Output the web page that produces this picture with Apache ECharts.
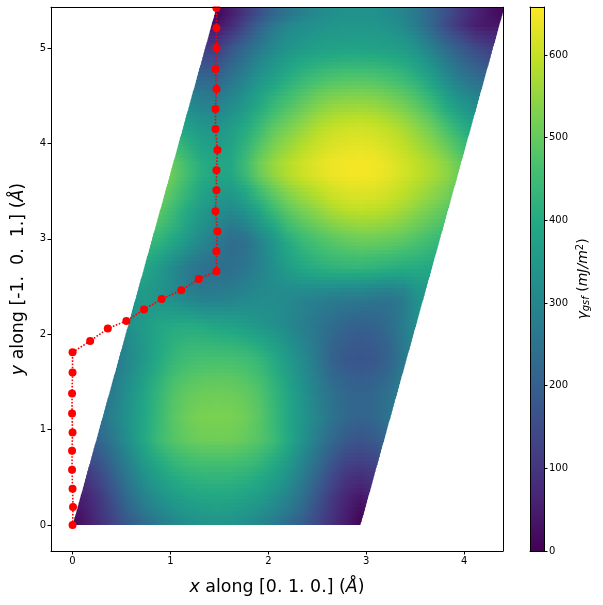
<!DOCTYPE html>
<html><head><meta charset="utf-8">
<style>html,body{margin:0;padding:0;background:#fff}#c{width:603px;height:605px}</style>
<script src="https://cdn.jsdelivr.net/npm/echarts@6/dist/echarts.min.js"></script>
</head><body><div id="c"></div>
<script>
const xTicks=[0,1,2,3,4];
const yTicks=[0,1,2,3,4,5];
const barTicks=[0,100,200,300,400,500,600];
const gammaMax=658;
const cellA=2.94, cellBx=1.47, cellBy=5.43;
const viridis=['#440154','#482576','#414487','#355f8d','#2a788e','#21918c','#22a884','#44bf70','#7ad151','#bddf26','#fde725'];
const pathX=[0,0.005,0,-0.005,-0.005,0,-0.005,-0.005,0,0,0.18,0.36,0.55,0.73,0.91,1.11,1.29,1.47,1.47,1.48,1.46,1.47,1.47,1.48,1.46,1.46,1.47,1.46,1.47,1.47,1.47];
const pathY=[0,0.19,0.38,0.58,0.78,0.97,1.17,1.38,1.6,1.81,1.93,2.06,2.14,2.26,2.37,2.46,2.58,2.66,2.87,3.08,3.29,3.51,3.72,3.93,4.15,4.36,4.57,4.78,5.0,5.21,5.42];
const gammaRows=[
[8,49,93,143,196,238,276,305,328,340,344,340,328,305,276,238,196,143,93,49],
[24,57,102,159,218,265,303,332,353,363,368,363,353,332,303,265,218,159,102,57],
[40,65,112,175,240,290,330,358,378,388,392,388,378,358,330,290,240,175,112,65],
[66,86,133,195,258,312,353,382,401,410,414,410,401,382,353,312,258,195,133,86],
[92,107,154,215,276,334,376,406,425,433,435,433,425,406,376,334,276,215,154,107],
[118,131,176,235,295,355,399,430,449,458,459,458,449,430,399,355,295,235,176,131],
[144,159,199,255,315,375,422,455,474,485,486,485,474,455,422,375,315,255,199,159],
[173,186,223,276,335,395,445,480,500,512,513,512,500,480,445,395,335,276,223,186],
[191,204,238,286,339,393,442,482,506,518,519,518,506,482,442,393,339,286,238,204],
[210,222,252,295,342,392,440,485,512,524,526,524,512,485,440,392,342,295,252,222],
[210,221,249,290,339,389,436,480,505,516,518,516,505,480,436,389,339,290,249,221],
[210,220,245,285,335,385,432,475,498,508,510,508,498,475,432,385,335,285,245,220],
[198,207,233,278,327,375,421,464,484,494,496,494,484,464,421,375,327,278,233,207],
[186,195,221,271,319,363,410,448,469,478,480,478,469,448,410,363,319,271,221,195],
[173,181,208,264,310,353,398,433,454,462,464,462,454,433,398,353,310,264,208,181],
[178,186,213,265,314,352,392,422,437,441,439,436,425,406,376,337,300,260,213,188],
[190,198,223,269,322,355,388,410,419,418,410,405,392,374,351,320,290,258,223,200],
[201,209,233,273,331,358,385,399,402,397,384,376,360,343,326,304,280,256,233,213],
[229,229,239,272,330,355,363,364,355,344,338,339,334,329,323,305,286,268,251,237],
[257,250,247,272,330,351,343,329,309,293,293,300,310,317,317,305,293,280,269,260],
[304,295,287,302,346,359,338,313,284,265,266,274,290,307,317,318,316,313,310,306],
[373,366,357,359,376,376,345,308,273,253,250,254,272,297,322,343,357,367,373,375],
[431,426,416,408,403,394,355,311,271,247,240,238,257,290,326,365,391,412,424,430],
[465,461,453,443,432,417,388,347,304,272,256,236,249,290,334,382,412,435,451,460],
[499,497,491,479,461,440,419,383,339,297,267,233,242,290,343,399,434,459,478,491],
[532,530,523,509,489,466,446,409,363,318,286,253,266,316,371,428,462,487,508,523],
[564,561,553,538,516,492,471,430,382,338,306,282,302,355,410,462,494,519,542,556],
[596,593,582,564,541,516,491,447,398,356,326,312,338,391,449,495,525,549,574,591],
[619,616,604,586,564,540,515,470,420,376,347,339,374,431,484,526,555,578,601,614],
[633,630,618,600,577,555,530,485,435,390,365,362,405,465,515,553,579,600,619,630],
[649,645,633,615,593,572,547,502,452,406,385,386,439,503,549,581,606,624,639,646],
[650,646,633,615,592,570,542,497,448,405,387,393,447,510,555,585,609,628,642,648],
[638,634,620,602,577,551,516,471,425,386,372,383,431,489,536,565,591,613,629,636],
[626,621,607,588,561,531,490,445,402,366,356,373,415,468,516,546,574,598,615,624],
[614,609,594,574,545,512,464,419,378,347,341,363,400,447,496,527,556,583,602,612],
[588,583,568,548,518,481,430,385,348,320,315,341,377,422,468,500,530,558,576,586],
[558,553,538,518,488,448,395,350,317,292,288,316,353,398,441,473,503,530,549,556],
[528,523,508,488,458,415,361,316,286,265,261,290,329,374,414,446,476,502,518,526],
[494,489,475,456,426,381,327,282,253,232,229,262,302,348,384,419,447,471,485,492],
[455,451,440,424,393,348,295,250,218,194,191,233,277,322,359,392,417,436,447,454],
[416,413,404,392,360,315,264,219,182,157,153,202,249,295,334,365,387,402,410,415],
[376,374,368,358,326,280,230,186,146,118,114,172,222,267,308,338,356,368,374,377],
[362,360,351,336,298,246,190,144,100,79,76,125,183,238,289,324,339,351,358,361],
[342,340,329,309,267,210,147,94,54,38,36,75,141,208,260,299,320,333,339,342],
[333,330,317,295,259,211,160,107,64,35,9,51,105,161,215,255,285,307,323,331]
];

const nRows=gammaRows.length, nCols=gammaRows[0].length;
const path=pathX.map((x,i)=>[x,pathY[i]]);
const shadeBands=3;

const font='"DejaVu Sans"';
const line={lineStyle:{color:'#000',width:1}};
const tickStyle=v=>({show:true,length:3.5,customValues:v,lineStyle:{color:'#000',width:1}});
const labelStyle=v=>({show:true,customValues:v,fontFamily:font,fontSize:10,color:'#000',margin:5});
function ax(extra){return Object.assign({type:'value',z:10,splitLine:{show:false},
  axisLine:Object.assign({show:true,onZero:false},line)},extra);}
function bare(extra){return Object.assign({type:'value',z:10,splitLine:{show:false},
  axisLine:Object.assign({show:true,onZero:false},line),axisTick:{show:false},axisLabel:{show:false}},extra);}
const xr={min:-0.22,max:4.397}, yr={min:-0.272,max:5.43};

const chart=echarts.init(document.getElementById('c'),null,{renderer:'canvas'});
const nameRich=size=>({i:{fontFamily:font,fontSize:size,fontStyle:'italic',color:'#000'},n:{fontFamily:font,fontSize:size,color:'#000'}});
const colorOf=v=>echarts.color.lerp(Math.max(0,Math.min(1,v/gammaMax)),viridis);
const clamp01=t=>Math.max(0,Math.min(1,t));
chart.setOption({
  animation:false,backgroundColor:'#fff',
  grid:[{left:51,right:100,top:7,bottom:54,outerBoundsMode:'none'},{left:530,right:59,top:7,bottom:54,outerBoundsMode:'none'}],
  xAxis:[
    ax(Object.assign({gridIndex:0,position:'bottom',axisTick:tickStyle(xTicks),axisLabel:labelStyle(xTicks),
      name:'{i|x}{n| along [0. 1. 0.] (}{i|Å}{n|)}',nameLocation:'middle',nameGap:28,
      nameTextStyle:{rich:nameRich(17.4)}},xr)),
    bare(Object.assign({gridIndex:0,position:'top'},xr)),
    bare({gridIndex:1,position:'bottom',min:0,max:1}),
    bare({gridIndex:1,position:'top',min:0,max:1})
  ],
  yAxis:[
    ax(Object.assign({gridIndex:0,position:'left',axisTick:tickStyle(yTicks),axisLabel:labelStyle(yTicks),
      name:'{i|y}{n| along [-1.  0.  1.] (}{i|Å}{n|)}',nameLocation:'middle',nameGap:24,nameRotate:90,
      nameTextStyle:{rich:nameRich(17.4)}},yr)),
    bare(Object.assign({gridIndex:0,position:'right'},yr)),
    ax({gridIndex:1,position:'right',min:0,max:gammaMax,axisTick:tickStyle(barTicks),axisLabel:labelStyle(barTicks),
      name:'{g|γ}{s|gsf}{n| (}{g|mJ/m}{u|2}{n|)}',nameLocation:'middle',nameGap:31,nameRotate:90,
      nameTextStyle:{rich:{
        g:{fontFamily:font,fontSize:14,fontStyle:'italic',color:'#000'},
        n:{fontFamily:font,fontSize:14,color:'#000'},
        s:{fontFamily:font,fontSize:10,fontStyle:'italic',color:'#000',padding:[6,0,0,0]},
        u:{fontFamily:font,fontSize:10,color:'#000',padding:[0,0,6,0]}}}}),
    bare({gridIndex:1,position:'left',min:0,max:gammaMax})
  ],
  series:[
    {type:'custom',xAxisIndex:0,yAxisIndex:0,clip:true,z:2,silent:true,
     data:gammaRows.map((r,j)=>[j].concat(r)),
     dimensions:['row'].concat(gammaRows[0].map((_,k)=>'n'+k)),
     encode:{y:0},
     renderItem(p,api){
       const j=api.value(0), children=[];
       const dy=cellBy/nRows;
       const at=(u,y)=>api.coord([u*cellA+y*cellBx/cellBy,y]);
       for(let s=0;s<shadeBands;s++){
         const t=(s+0.5)/shadeBands-0.5;              // shading position relative to the row's centre
         const other=gammaRows[Math.max(0,Math.min(nRows-1,t<0?j-1:j+1))];
         const w=Math.abs(t);
         const yA=(j+s/shadeBands)*dy,yB=(j+(s+1)/shadeBands)*dy,yC=(yA+yB)/2;
         const a=at(0,yA),b=at(1,yA),c=at(1,yB),d=at(0,yB);
         const bottom=(j===0&&s===0)?Math.round(a[1]):Math.round(a[1])+1, top=Math.round(d[1]);
         const l=at(0,yC),r=at(1,yC);
         // the table is periodic in x with period cellA; walk one period from the band's left edge
         const xL=yC*cellBx/cellBy, step=cellA/nCols, m0=Math.ceil(xL/step-1e-9);
         const idx=m=>((m%nCols)+nCols)%nCols;
         const val=m=>api.value(1+idx(m))*(1-w)+other[idx(m)]*w;
         const f0=clamp01((m0*step-xL)/step);
         const edge=colorOf(val(m0)*(1-f0)+val(m0-1)*f0);
         const stops=[{offset:0,color:edge}];
         for(let m=m0;m<m0+nCols;m++) stops.push({offset:clamp01((m*step-xL)/cellA),color:colorOf(val(m))});
         stops.push({offset:1,color:edge});
         children.push({type:'polygon',shape:{points:[[a[0],bottom],[b[0],bottom],[c[0],top],[d[0],top]]},
               style:{fill:new echarts.graphic.LinearGradient(l[0],0,r[0],0,stops,true)}});
       }
       return {type:'group',children};
     }},
    {type:'line',xAxisIndex:0,yAxisIndex:0,z:5,clip:true,silent:true,data:path,symbol:'circle',symbolSize:8,
     itemStyle:{color:'#ff0000'},lineStyle:{color:'#ff0000',type:'dotted',width:1.6}},
    {type:'custom',xAxisIndex:2,yAxisIndex:2,z:2,silent:true,data:[[0,gammaMax]],encode:{y:[0,1]},
     renderItem(p,api){
       const a=api.coord([0,api.value(0)]),b=api.coord([1,api.value(1)]);
       return {type:'rect',shape:{x:a[0],y:b[1],width:b[0]-a[0],height:a[1]-b[1]},
         style:{fill:new echarts.graphic.LinearGradient(0,1,0,0,viridis.map((c,k)=>({offset:k/(viridis.length-1),color:c})))}};
     }}
  ],
  graphic:[{type:'rect',z:100,shape:{x:0,y:0,width:520,height:6.5},style:{fill:'#fff'}}]
});
</script></body></html>
